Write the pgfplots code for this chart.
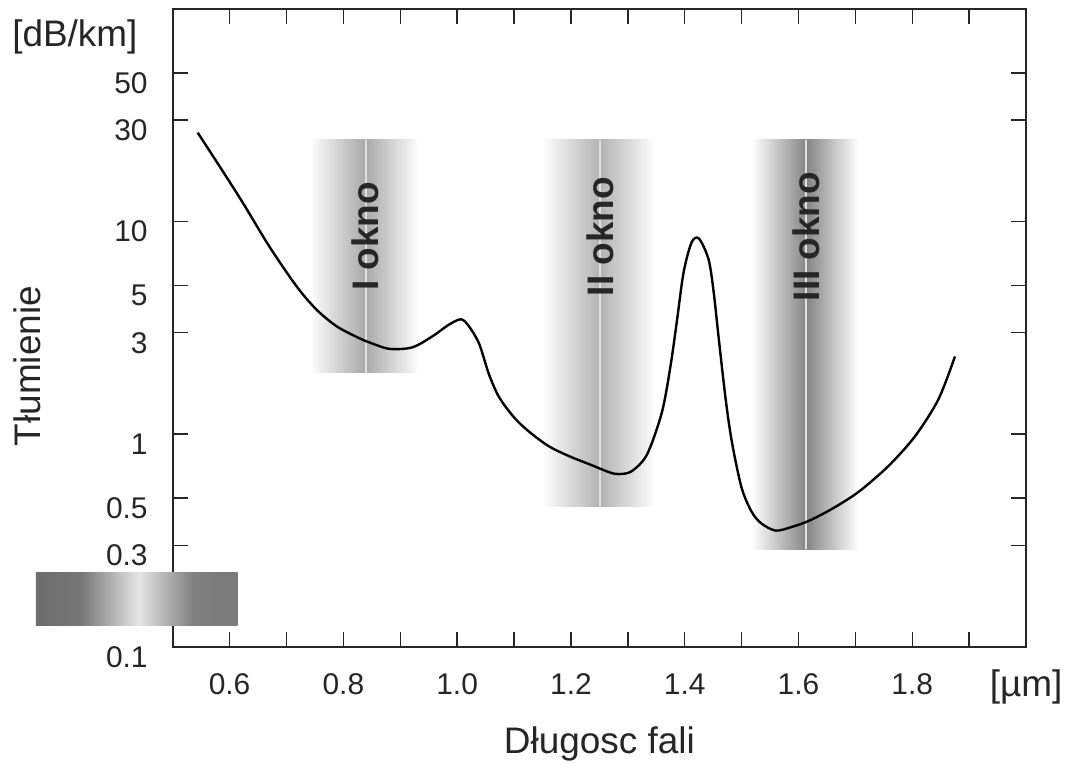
\documentclass[border=0pt]{standalone}
\usepackage{fontspec}
\setmainfont{Liberation Sans}
\usepackage{pgfplots}
\pgfplotsset{compat=1.18}

\definecolor{bandI}{gray}{0.66}
\definecolor{bandII}{gray}{0.70}
\definecolor{bandIII}{gray}{0.52}
\definecolor{axgray}{gray}{0.15}

% legend bar: dark - light - dark
\pgfdeclarehorizontalshading{legbar}{100bp}{color(0bp)=(black!57); color(25bp)=(black!57);
  color(36bp)=(black!54); color(50.5bp)=(black!10); color(64bp)=(black!50);
  color(75bp)=(black!52); color(100bp)=(black!52)}

\pgfplotstableread{
x y
0.544 26.2
0.583 18.1
0.623 12.3
0.670 7.63
0.718 4.95
0.753 3.85
0.788 3.22
0.823 2.87
0.846 2.70
0.881 2.52
0.921 2.56
0.956 2.88
0.986 3.28
1.007 3.47
1.021 3.21
1.039 2.65
1.056 1.91
1.074 1.49
1.100 1.20
1.126 1.03
1.161 0.878
1.197 0.788
1.232 0.723
1.267 0.663
1.284 0.649
1.307 0.670
1.334 0.805
1.360 1.27
1.375 2.09
1.386 3.36
1.398 5.76
1.412 7.97
1.425 8.32
1.442 6.63
1.451 4.64
1.460 2.79
1.472 1.46
1.483 0.917
1.500 0.560
1.518 0.430
1.535 0.380
1.560 0.352
1.588 0.366
1.618 0.391
1.658 0.444
1.705 0.534
1.758 0.708
1.805 0.979
1.846 1.46
1.875 2.32
}\loss

\newcommand{\okno}[5]{% left, centre, right, bottom, colour
  \shade[left color=white, right color=#5] (axis cs:#1,#4) rectangle (axis cs:#2,24.3);
  \shade[left color=#5, right color=white] (axis cs:#2,#4) rectangle (axis cs:#3,24.3);
  \draw[white!88!black, line width=1pt] (axis cs:#2,#4) -- (axis cs:#2,24.3);
}

\begin{document}
\begin{tikzpicture}
\begin{axis}[
  scale only axis, width=427.5pt, height=319.5pt,
  xmin=0.5, xmax=2.0, ymode=log, ymin=0.1, ymax=100,
  clip=false,
  axis line style={axgray, line width=1pt},
  tick style={axgray, line width=0.7pt},
  major tick length=7.5pt, minor tick length=7.5pt,
  tick align=inside, xtick pos=both, ytick pos=both,
  xtick={0.6,0.8,1.0,1.2,1.4,1.6,1.8},
  xticklabels={0.6,0.8,1.0,1.2,1.4,1.6,1.8},
  minor xtick={0.7,0.9,1.1,1.3,1.5,1.7,1.9},
  ytick={0.1,0.3,0.5,1,3,5,10,30,50},
  yticklabels={0.1,0.3,0.5,1,3,5,10,30,50},
  /pgf/number format/assume math mode=true,
  ticklabel style={font=\fontsize{15}{17}\selectfont, text=axgray},
  xticklabel style={yshift=-10pt},
  yticklabel style={xshift=-9pt, yshift=-5pt},
]
\okno{0.740}{0.839}{0.933}{1.95}{bandI}
\okno{1.149}{1.251}{1.349}{0.459}{bandII}
\okno{1.518}{1.614}{1.705}{0.288}{bandIII}

\node[rotate=90, font=\fontsize{18.5}{20}\selectfont\bfseries, text=axgray] at (axis cs:0.839,8.5) {I okno};
\node[rotate=90, font=\fontsize{18.5}{20}\selectfont\bfseries, text=axgray] at (axis cs:1.251,8.5) {II okno};
\node[rotate=90, font=\fontsize{18.5}{20}\selectfont\bfseries, text=axgray] at (axis cs:1.614,8.5) {III okno};

\addplot[black, line width=1.2pt, smooth, no markers] table[x=x, y=y] {\loss};

\coordinate (O) at (rel axis cs:0,0);
\coordinate (lb1) at (axis cs:0.2596,0.1255);
\coordinate (lb2) at (axis cs:0.614,0.2226);

\node[rotate=90, font=\fontsize{18.5}{20}\selectfont, text=axgray] at (rel axis cs:-0.170,0.44) {Tłumienie};
\node[font=\fontsize{18.5}{20}\selectfont, text=axgray] at (rel axis cs:0.5,-0.152) {Długosc fali};
\node[font=\fontsize{18.5}{20}\selectfont, text=axgray] at (rel axis cs:-0.1146,0.956) {[dB/km]};
\node[font=\fontsize{18.5}{20}\selectfont, text=axgray] at (rel axis cs:1.0,-0.0626) {[µm]};
\end{axis}
\shade[shading=legbar] (lb1) rectangle (lb2);
\path (O) ++(-86.5pt,-59.5pt) rectangle ++(534.5pt,383.5pt);
\end{tikzpicture}
\end{document}
